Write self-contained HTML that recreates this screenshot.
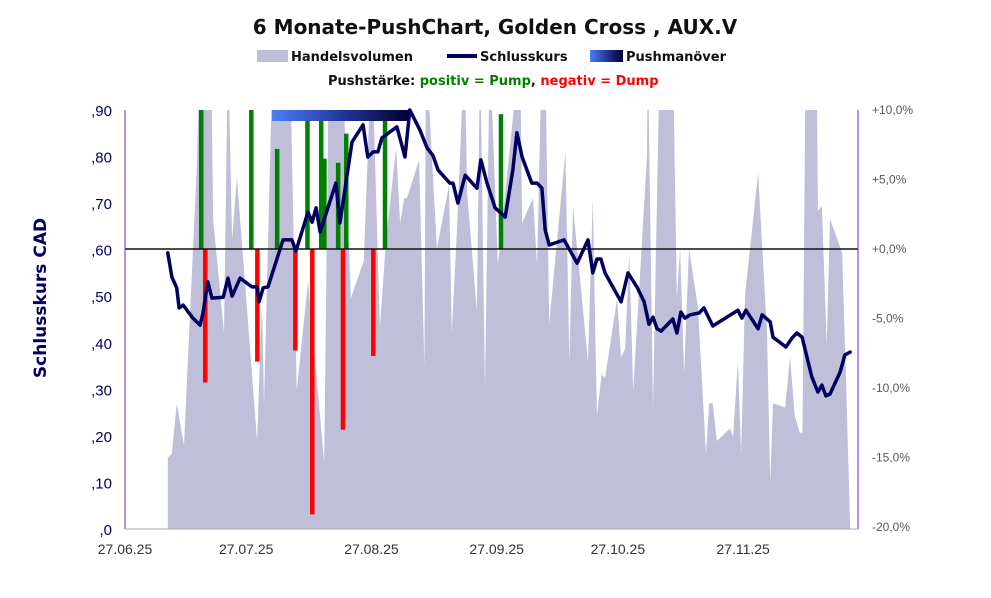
<!DOCTYPE html>
<html><head><meta charset="utf-8"><style>
body{margin:0;background:#fff;font-family:"Liberation Sans",sans-serif;}
svg text{font-family:"Liberation Sans",sans-serif;}
svg text.dv{font-family:"DejaVu Sans",sans-serif;}
</style></head><body>
<svg id="c" width="991" height="593" viewBox="0 0 991 593">
<defs>
<linearGradient id="pg" x1="0" x2="1" y1="0" y2="0"><stop offset="0" stop-color="#4a7ef7"/><stop offset="0.5" stop-color="#24389a"/><stop offset="1" stop-color="#000030"/></linearGradient>
<clipPath id="pc"><rect x="125" y="110" width="733" height="419"/></clipPath>
</defs>
<text class="dv" x="495" y="34" text-anchor="middle" font-size="20" font-weight="bold" fill="#111">6 Monate-PushChart, Golden Cross , AUX.V</text>
<g>
<rect x="257" y="50" width="31" height="12" fill="#bfbfda"/>
<text class="dv" x="291" y="61" font-size="13" font-weight="bold" fill="#111">Handelsvolumen</text>
<line x1="447" y1="56" x2="477" y2="56" stroke="#000060" stroke-width="4"/>
<text class="dv" x="480" y="61" font-size="13" font-weight="bold" fill="#111">Schlusskurs</text>
<rect x="590" y="50" width="33" height="12" fill="url(#pg)"/>
<text class="dv" x="626" y="61" font-size="13" font-weight="bold" fill="#111">Pushmanöver</text>
<text class="dv" x="328" y="85" font-size="13" font-weight="bold"><tspan fill="#111">Pushstärke:  </tspan><tspan fill="#008000">positiv = Pump</tspan><tspan fill="#111">,  </tspan><tspan fill="#ff0000">negativ = Dump</tspan></text>
</g>
<text class="dv" transform="translate(46,298) rotate(-90)" text-anchor="middle" font-size="17" font-weight="bold" fill="#000060">Schlusskurs CAD</text>
<g id="vol" clip-path="url(#pc)"></g>
<g id="bars"></g>
<rect x="272" y="110" width="138" height="11" fill="url(#pg)"/>
<line x1="125" y1="249" x2="858" y2="249" stroke="#111" stroke-width="1.5"/>
<g id="line"></g>
<line x1="125" y1="110" x2="125" y2="529" stroke="#7020d0" stroke-width="1"/>
<line x1="858" y1="110" x2="858" y2="529" stroke="#7020d0" stroke-width="1"/>
<line x1="125" y1="529" x2="858" y2="529" stroke="#aaa" stroke-width="1"/>
<g id="ticks"></g>
</svg>
<script>
const xTickLabels=["27.06.25","27.07.25","27.08.25","27.09.25","27.10.25","27.11.25"];
const xTickDays=[0,30,61,92,122,153];
const yTickLabels=[",0",",10",",20",",30",",40",",50",",60",",70",",80",",90"];
const yTickValues=[0,0.1,0.2,0.3,0.4,0.5,0.6,0.7,0.8,0.9];
const rTickLabels=["-20,0%","-15,0%","-10,0%","-5,0%","+0,0%","+5,0%","+10,0%"];
const rTickValues=[-20,-15,-10,-5,0,5,10];
const priceDays=[10.6,11.6,12.8,13.4,14.4,16.6,18.6,19.3,20.5,21.5,24.3,25.5,26.5,28.5,31.4,32.7,33.2,34.2,35.4,39.1,41.3,42.3,45.3,46.3,47.3,48.3,52.2,53.2,56.2,58.9,60.1,61.4,62.6,63.6,67.3,69.3,70.5,73,74.8,76.2,77.5,80.4,81.2,82.4,84.2,87.1,88.1,89.6,91.6,94.1,96,97,98.3,100.7,102,103.2,104,105,108.7,111.9,114.6,115.8,116.8,117.8,118.8,122.8,124.5,126.7,128.5,129.7,130.7,131.7,132.7,135.6,136.6,137.6,138.6,139.9,142.1,143.3,145.5,151.7,152.7,153.7,156.7,157.7,159.7,160.4,163.6,165.1,166.3,167.6,170,171.5,172.5,173.5,174.5,177,178.2,179.5];
const priceValues=[0.593,0.541,0.518,0.475,0.481,0.455,0.438,0.464,0.531,0.496,0.498,0.539,0.500,0.539,0.520,0.520,0.488,0.518,0.520,0.621,0.621,0.597,0.681,0.659,0.690,0.638,0.743,0.657,0.831,0.868,0.799,0.810,0.810,0.840,0.864,0.799,0.900,0.857,0.818,0.803,0.771,0.743,0.743,0.700,0.760,0.732,0.793,0.743,0.690,0.670,0.771,0.851,0.799,0.743,0.743,0.732,0.642,0.610,0.621,0.571,0.621,0.550,0.580,0.580,0.550,0.488,0.550,0.520,0.488,0.440,0.455,0.430,0.425,0.451,0.421,0.466,0.453,0.460,0.464,0.475,0.436,0.470,0.453,0.470,0.430,0.460,0.445,0.412,0.391,0.410,0.421,0.412,0.327,0.294,0.309,0.286,0.290,0.337,0.374,0.380];
const volDays=[10.6,11.6,12.8,14.6,17.8,18.6,21.3,21.8,24.5,25.5,26.5,27.7,32.7,33.9,34.4,36.6,40.8,42.5,45.3,49.3,50.5,53.7,55.9,59.1,61.1,63.1,64.6,67.1,68.1,69.1,69.8,72.8,74.1,74.5,77.2,80.2,80.9,82.2,84,84.7,87.1,87.9,89.1,90.3,92.3,97.8,98.3,101,102,103.2,104,105,109,110,110.9,114.6,115.8,116.8,118,118.8,121.8,122.8,123.8,124.8,125.8,129.2,129.4,130.7,132.4,135.6,136.6,137.4,138.4,139.6,141.8,143.8,144.6,145.5,146.5,149.8,150.5,151.7,152.5,153.5,156.7,158.9,159.7,160.4,163.4,164.6,165.8,167,167.7,168.5,171.2,171.5,172.5,173.7,174.5,177.5,178.5,179.5];
const volValues=[17,18,30,20,87,115,115,74,47,115,69,84,21,54,30,115,115,33,59,16,115,115,55,64,115,48,69,91,73,79,79,88,39,115,67,82,47,72,115,80,52,115,34,115,63,115,73,79,63,115,115,49,90,40,77,40,79,27,37,36,55,41,43,66,33,89,115,29,115,115,55,67,37,67,53,18,30,30,21,24,22,40,18,56,85,47,11,30,29,41,27,23,23,115,115,76,77,44,74,66,35,0];
const pushDays=[18.8,31.2,37.6,45.1,48.5,49.3,52.7,54.7,64.3,93];
const pushValues=[10,10,7.2,10,10,6.5,6.2,8.3,10,9.7];
const dumpDays=[19.8,32.7,42.1,46.3,53.9,61.4];
const dumpValues=[-9.6,-8.1,-7.3,-19.1,-13,-7.7];

const NS="http://www.w3.org/2000/svg";
const X0=125,DPX=4.04,YB=529,YT=110;
const xs=d=>X0+d*DPX;
const yp=p=>YB-p/0.9*(YB-YT);
const yv=v=>YB-v/100*(YB-YT);
const yr=r=>249-r/10*139;
function mk(t,a,parent){const e=document.createElementNS(NS,t);for(const k in a)e.setAttribute(k,a[k]);parent.appendChild(e);return e;}

const vg=document.getElementById('vol');
let pts=volDays.map((d,i)=>xs(d).toFixed(1)+","+yv(volValues[i]).toFixed(1));
pts.unshift(xs(volDays[0]).toFixed(1)+","+YB);
pts.push(xs(volDays[volDays.length-1]).toFixed(1)+","+YB);
const va=mk('polygon',{points:pts.join(' '),fill:'#bfbfda'},vg);



const bg=document.getElementById('bars');
pushDays.forEach((d,i)=>{const y=yr(pushValues[i]);const r=mk('rect',{x:xs(d)-2,y:y,width:4.5,height:249-y,fill:'#008000'},bg);

});
dumpDays.forEach((d,i)=>{const y=yr(dumpValues[i]);const r=mk('rect',{x:xs(d)-2,y:249,width:4.5,height:y-249,fill:'#ff0000'},bg);

});

const lg=document.getElementById('line');
const pl=mk('polyline',{points:priceDays.map((d,i)=>xs(d).toFixed(1)+","+yp(priceValues[i]).toFixed(1)).join(' '),fill:'none',stroke:'#000060','stroke-width':3.5,'stroke-linejoin':'round','stroke-linecap':'round'},lg);



const tg=document.getElementById('ticks');
yTickValues.forEach((v,i)=>{const t=mk('text',{x:112,y:yp(v)+6,'text-anchor':'end','font-size':15,fill:'#000060'},tg);t.textContent=yTickLabels[i];

});
rTickValues.forEach((v,i)=>{const t=mk('text',{x:872,y:yr(v)+4,'font-size':12,fill:'#595959'},tg);t.textContent=rTickLabels[i];

});
xTickDays.forEach((d,i)=>{const t=mk('text',{x:xs(d),y:554,'text-anchor':'middle','font-size':14,fill:'#333'},tg);t.textContent=xTickLabels[i];

});
</script>
</body></html>
